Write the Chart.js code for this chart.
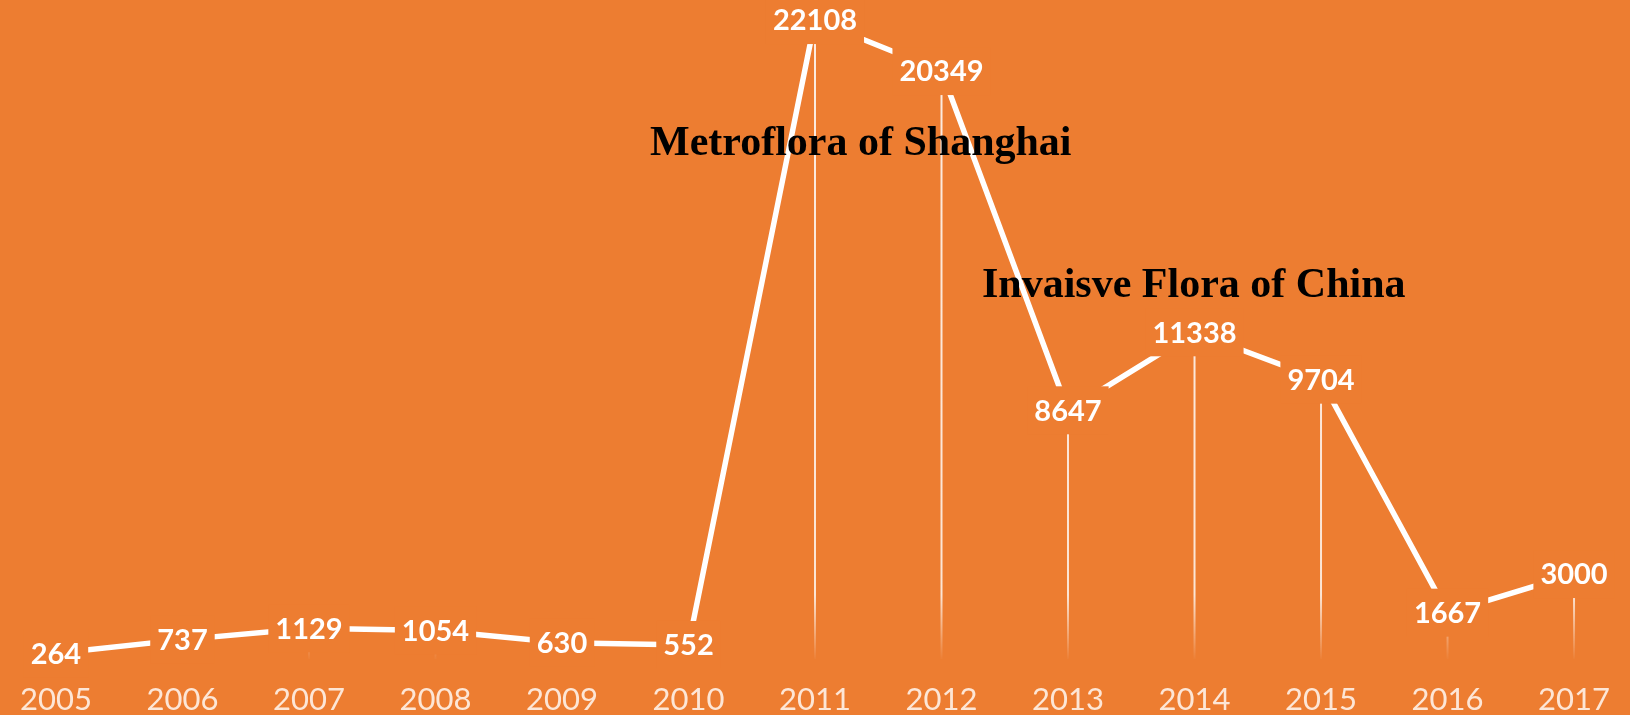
<!DOCTYPE html>
<html>
<head>
<meta charset="utf-8">
<title>Records per year</title>
<script src="https://cdn.jsdelivr.net/npm/chart.js@4.4.0/dist/chart.umd.min.js"></script>
<style>
  html, body { margin: 0; padding: 0; background: #ED7D31; }
  #lineChart { display: block; }
</style>
</head>
<body>
<canvas id="lineChart" width="1630" height="715"></canvas>
<script>
// Data
const years = ['2005', '2006', '2007', '2008', '2009', '2010', '2011',
               '2012', '2013', '2014', '2015', '2016', '2017'];
const records = [264, 737, 1129, 1054, 630, 552, 22108,
                 20349, 8647, 11338, 9704, 1667, 3000];

// Text notes placed on the chart (left x, baseline y)
const notes = [
    { text: 'Metroflora of Shanghai', x: 650, y: 155 },
    { text: 'Invaisve Flora of China', x: 982, y: 297 }
];

const BG = '#ED7D31';

// Thin fading lines from each point down to the base
const dropLines = {
    id: 'dropLines',
    beforeDatasetsDraw(chart) {
        const { ctx, chartArea } = chart;
        const meta = chart.getDatasetMeta(0);
        const grad = ctx.createLinearGradient(0, chartArea.top, 0, chartArea.bottom);
        grad.addColorStop(0, 'rgba(255,255,255,0.85)');
        grad.addColorStop(0.9, 'rgba(255,255,255,0.8)');
        grad.addColorStop(1, 'rgba(255,255,255,0)');
        ctx.save();
        ctx.strokeStyle = grad;
        ctx.lineWidth = 2;
        meta.data.forEach(pt => {
            ctx.beginPath();
            ctx.moveTo(pt.x, pt.y);
            ctx.lineTo(pt.x, chartArea.bottom - 2);
            ctx.stroke();
        });
        ctx.restore();
    }
};

// Value labels sitting on the points, with a box that hides the line underneath
const valueLabels = {
    id: 'valueLabels',
    afterDatasetsDraw(chart) {
        const { ctx } = chart;
        const meta = chart.getDatasetMeta(0);
        const values = chart.data.datasets[0].data;
        ctx.save();
        ctx.font = 'bold 29px Lato';
        ctx.textAlign = 'center';
        ctx.textBaseline = 'middle';
        meta.data.forEach((pt, i) => {
            const txt = String(values[i]);
            const w = ctx.measureText(txt).width + 14;
            const h = 48;
            ctx.fillStyle = BG;
            ctx.fillRect(pt.x - w / 2, pt.y - h / 2, w, h);
            ctx.fillStyle = '#FFFFFF';
            ctx.fillText(txt, pt.x, pt.y + 1);
        });

        // annotations
        ctx.font = 'bold 42px "Liberation Serif"';
        ctx.textAlign = 'left';
        ctx.textBaseline = 'alphabetic';
        ctx.fillStyle = '#000000';
        notes.forEach(n => ctx.fillText(n.text, n.x, n.y));
        ctx.restore();
    }
};

const data = {
    labels: years,
    datasets: [{
        data: records,
        borderColor: '#FFFFFF',
        borderWidth: 5.5,
        pointRadius: 0,
        pointHoverRadius: 0,
        tension: 0,
        fill: false
    }]
};

const config = {
    type: 'line',
    data: data,
    options: {
        responsive: false,
        animation: false,
        events: [],
        layout: { padding: { left: 49, right: 47, top: 0, bottom: 0 } },
        scales: {
            x: {
                offset: false,
                grid: { display: false, drawTicks: false },
                border: { display: false },
                ticks: {
                    autoSkip: false,
                    maxRotation: 0,
                    padding: 20,
                    color: '#FDE6D6',
                    font: { family: 'Lato', size: 31 }
                },
                afterFit(scale) { scale.height = 54; }
            },
            y: {
                display: false,
                min: 0,
                max: 22800
            }
        },
        plugins: {
            legend: { display: false },
            tooltip: { enabled: false }
        }
    },
    plugins: [dropLines, valueLabels]
};

new Chart(document.getElementById('lineChart'), config);
</script>
</body>
</html>
